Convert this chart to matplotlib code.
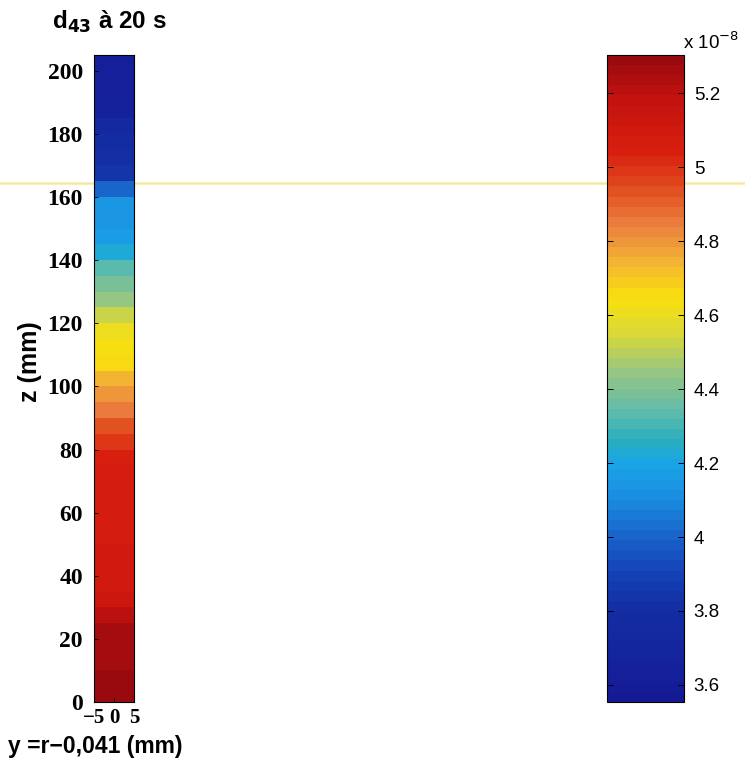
import numpy as np
import matplotlib
matplotlib.use("Agg")
import matplotlib.pyplot as plt
from matplotlib.lines import Line2D
from matplotlib.colors import Normalize, LinearSegmentedColormap
from matplotlib.font_manager import FontProperties

# ---- data ----
z_edges_mm = [0, 5, 10, 15, 20, 25, 30, 35, 40, 45, 50, 55, 60, 65, 70, 75, 80,
              85, 90, 95, 100, 105, 110, 115, 120, 125, 130, 135, 140, 145, 150,
              155, 160, 165, 170, 175, 180, 185, 190, 195, 200, 205]
y_edges_mm = [-5, 5]
d43_e8 = [5.28, 5.28, 5.27, 5.27, 5.26, 5.22, 5.13, 5.10, 5.09, 5.09, 5.08,
          5.08, 5.08, 5.08, 5.07, 5.05, 5.00, 4.93, 4.86, 4.79, 4.73, 4.66,
          4.63, 4.60, 4.52, 4.45, 4.38, 4.33, 4.22, 4.16, 4.14, 4.13, 4.00,
          3.85, 3.80, 3.78, 3.72, 3.66, 3.63, 3.62, 3.62]
cbar_ticks = [3.6, 3.8, 4.0, 4.2, 4.4, 4.6, 4.8, 5.0, 5.2]
cbar_labels = ["3.6", "3.8", "4", "4.2", "4.4", "4.6", "4.8", "5", "5.2"]
z_ticks = [0, 20, 40, 60, 80, 100, 120, 140, 160, 180, 200]
y_ticks = [-5, 0, 5]
vmin, vmax = 3.554, 5.303

# colour anchors of the (printed) colour scale: value -> rgb
cmap_values = [3.554, 3.6, 3.8, 3.9, 4.0, 4.1, 4.2, 4.25, 4.35, 4.45, 4.55,
               4.65, 4.75, 4.85, 4.95, 5.05, 5.2, 5.303]
cmap_colors = [(0.08, 0.10, 0.58), (0.08, 0.12, 0.60), (0.08, 0.18, 0.64),
               (0.08, 0.26, 0.72), (0.10, 0.40, 0.80), (0.10, 0.55, 0.88),
               (0.10, 0.65, 0.90), (0.15, 0.68, 0.75), (0.40, 0.74, 0.66),
               (0.60, 0.78, 0.50), (0.85, 0.85, 0.22), (0.98, 0.88, 0.05),
               (0.95, 0.70, 0.20), (0.92, 0.50, 0.25), (0.88, 0.30, 0.12),
               (0.85, 0.12, 0.06), (0.76, 0.07, 0.06), (0.60, 0.04, 0.06)]

# ---- figure ----
W, H = 745, 759
fig = plt.figure(figsize=(W / 100, H / 100), dpi=100)
pos = [(v - vmin) / (vmax - vmin) for v in cmap_values]
cmap = LinearSegmentedColormap.from_list("scanjet", list(zip(pos, cmap_colors)), N=64)
norm = Normalize(vmin=vmin, vmax=vmax)

def fx(px):
    return px / W

def fy(py):
    return 1 - py / H

ax = fig.add_axes([fx(94), fy(702), fx(134) - fx(94), fy(55) - fy(702)])
C = np.array(d43_e8).reshape(-1, 1)
ax.pcolormesh(y_edges_mm, z_edges_mm, C, cmap=cmap, norm=norm, shading="flat")
ax.set_xlim(-5, 5)
ax.set_ylim(0, 205)
ax.set_yticks(z_ticks)
ax.set_xticks(y_ticks)
ax.set_xticklabels(["\u22125", "0", "5"])
fp_y = FontProperties(family="Liberation Serif", weight="bold", size=17)
fp_x = FontProperties(family="Liberation Serif", weight="bold", size=15)
for lab in ax.get_yticklabels():
    lab.set_fontproperties(fp_y)
for lab in ax.get_xticklabels():
    lab.set_fontproperties(fp_x)
ax.tick_params(direction="in", length=3, width=0.6, colors="black")
ax.tick_params(axis="y", pad=8)
ax.tick_params(axis="x", pad=4)
for s in ax.spines.values():
    s.set_linewidth(0.8)

ax.set_ylabel("z (mm)", fontsize=18, fontweight="bold", family="Liberation Sans")
ax.yaxis.set_label_coords(fx(42 - 94) / (fx(134) - fx(94)), (fy(362) - fy(702)) / (fy(55) - fy(702)))
fig.text(fx(8), fy(746), "y =r\u22120,041 (mm)", fontsize=16.5, fontweight="bold",
         family="Liberation Sans", ha="left", va="center")
fig.text(fx(52), fy(22), r"d$_{\mathbf{43}}$ à 20 s", fontsize=17.5, fontweight="bold",
         family="Liberation Sans", ha="left", va="center")

# ---- colorbar ----
cax = fig.add_axes([fx(607), fy(702), fx(684) - fx(607), fy(55) - fy(702)])
sm = matplotlib.cm.ScalarMappable(norm=norm, cmap=cmap)
cb = fig.colorbar(sm, cax=cax)
cb.set_ticks(cbar_ticks)
cb.set_ticklabels(cbar_labels)
cb.outline.set_linewidth(0.8)
cax.tick_params(direction="in", length=4, width=0.7, labelsize=13.5, pad=7,
                left=True, right=True)
for lab in cax.get_yticklabels():
    lab.set_family("Liberation Sans")
fig.text(fx(683), fy(42), r"x 10$^{-8}$", fontsize=13.5, family="Liberation Sans",
         ha="left", va="center")

# scan artifact line
fig.add_artist(Line2D([0, 1], [fy(183), fy(183)], transform=fig.transFigure,
                      color="#f3e38a", lw=1.8, alpha=0.8, zorder=0))

fig.savefig("out.png", dpi=100)
